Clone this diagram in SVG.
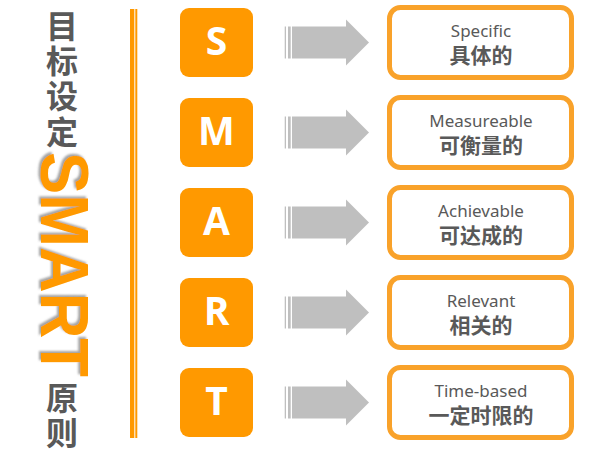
<svg xmlns="http://www.w3.org/2000/svg" width="599" height="453" viewBox="0 0 599 453">
<defs>
<style>
.lbox{fill:#FF9900}
.ltr{fill:#fff;font-family:"Open Sans","Liberation Sans",sans-serif;font-weight:bold;font-size:39px;text-anchor:middle}
.arr{fill:#BFBFBF}
.rbox{fill:#fff;stroke:#F9A22A;stroke-width:5}
.en{fill:#595959;font-family:"Noto Sans","Liberation Sans",sans-serif;font-size:17px;text-anchor:middle}
.zh{fill:#595959;font-family:"Noto Sans CJK SC",sans-serif;font-weight:bold;font-size:21px;text-anchor:middle}
.title{fill:#595959;font-family:"Noto Sans CJK SC",sans-serif;font-weight:bold;font-size:32px;text-anchor:middle}
.smart{fill:#FF9900;font-family:"Liberation Sans",Arial,sans-serif;font-weight:bold;font-size:68px}
</style>
<filter id="sh" x="-20%" y="-20%" width="140%" height="140%">
<feDropShadow dx="-2" dy="2" stdDeviation="1" flood-color="#666" flood-opacity="0.6"/>
</filter>
<g id="arrow">
<rect x="284.7" y="-16" width="1.3" height="32"/>
<rect x="288" y="-16" width="2.7" height="32"/>
<polygon points="292,-16 346,-16 346,-23 369,0 346,23 346,16 292,16"/>
</g>
</defs>
<g id="title">
<text class="title" x="62" y="38">目</text>
<text class="title" x="62" y="73">标</text>
<text class="title" x="62" y="108">设</text>
<text class="title" x="62" y="144">定</text>
<text class="smart" transform="translate(41,152) rotate(90)" textLength="225" lengthAdjust="spacingAndGlyphs" filter="url(#sh)">SMART</text>
<text class="title" x="62" y="410">原</text>
<text class="title" x="62" y="445">则</text>
</g>
<g id="divider">
<rect x="130" y="9" width="4.3" height="429" fill="#FF9900"/>
<rect x="135.3" y="9" width="2" height="429" fill="#FF9900"/>
</g>
<g id="connectors" class="arr">
<use href="#arrow" transform="translate(0,42.5)"/>
<use href="#arrow" transform="translate(0,132.5)"/>
<use href="#arrow" transform="translate(0,222.5)"/>
<use href="#arrow" transform="translate(0,312.5)"/>
<use href="#arrow" transform="translate(0,402.5)"/>
</g>
<g id="node-S">
<rect class="lbox" x="180" y="8" width="73" height="69" rx="9"/>
<text class="ltr" x="216.5" y="55">S</text>
</g>
<g id="node-M">
<rect class="lbox" x="180" y="98" width="73" height="69" rx="9"/>
<text class="ltr" x="216.5" y="145">M</text>
</g>
<g id="node-A">
<rect class="lbox" x="180" y="188" width="73" height="69" rx="9"/>
<text class="ltr" x="216.5" y="235">A</text>
</g>
<g id="node-R">
<rect class="lbox" x="180" y="278" width="73" height="69" rx="9"/>
<text class="ltr" x="216.5" y="325">R</text>
</g>
<g id="node-T">
<rect class="lbox" x="180" y="368" width="73" height="69" rx="9"/>
<text class="ltr" x="216.5" y="415">T</text>
</g>
<g id="desc-S">
<rect class="rbox" x="389.5" y="7.5" width="182" height="70" rx="11"/>
<text class="en" x="481" y="37">Specific</text>
<text class="zh" x="481" y="63">具体的</text>
</g>
<g id="desc-M">
<rect class="rbox" x="389.5" y="97.5" width="182" height="70" rx="11"/>
<text class="en" x="481" y="127">Measureable</text>
<text class="zh" x="481" y="153">可衡量的</text>
</g>
<g id="desc-A">
<rect class="rbox" x="389.5" y="187.5" width="182" height="70" rx="11"/>
<text class="en" x="481" y="217">Achievable</text>
<text class="zh" x="481" y="243">可达成的</text>
</g>
<g id="desc-R">
<rect class="rbox" x="389.5" y="277.5" width="182" height="70" rx="11"/>
<text class="en" x="481" y="307">Relevant</text>
<text class="zh" x="481" y="333">相关的</text>
</g>
<g id="desc-T">
<rect class="rbox" x="389.5" y="367.5" width="182" height="70" rx="11"/>
<text class="en" x="481" y="397">Time-based</text>
<text class="zh" x="481" y="423">一定时限的</text>
</g>
</svg>
